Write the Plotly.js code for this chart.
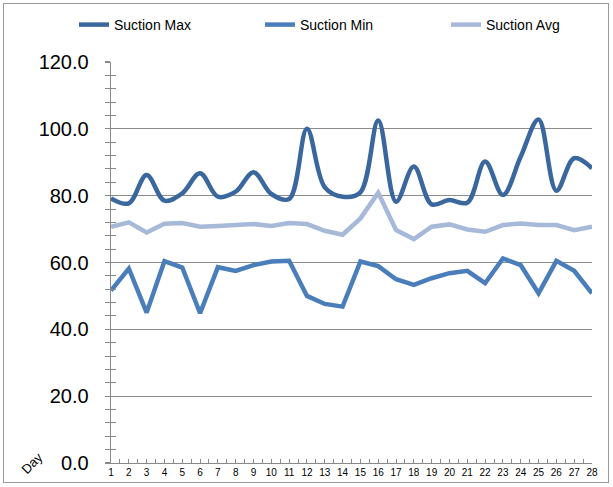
<!DOCTYPE html>
<html>
<head>
<meta charset="utf-8">
<script src="https://cdn.plot.ly/plotly-3.0.1.min.js"></script>
<style>
  html, body { margin: 0; padding: 0; background: #fff; }
  #wrap { position: relative; width: 613px; height: 487px; }
  #chart { position: absolute; left: 0; top: 0; width: 613px; height: 487px; }
  #frame { position: absolute; left: 3px; top: 3px; width: 604px; height: 478px; border: 1.5px solid #9a9a9a; pointer-events: none; }
</style>
</head>
<body>
<div id="wrap"><div id="chart"></div><div id="frame"></div></div>
<script>
const days = [1,2,3,4,5,6,7,8,9,10,11,12,13,14,15,16,17,18,19,20,21,22,23,24,25,26,27,28];
const suctionMax = [79.2,77.7,86.2,78.5,80.7,86.7,79.7,81.2,87.0,80.5,79.0,100.0,82.5,79.7,81.0,102.5,78.2,88.7,77.4,78.7,77.9,90.2,80.2,91.7,102.8,81.5,91.2,88.2];
const suctionMin = [51.6,58.2,45.0,60.4,58.5,44.8,58.6,57.5,59.2,60.3,60.5,50.0,47.6,46.8,60.3,58.9,55.0,53.3,55.3,56.8,57.5,53.8,61.2,59.2,50.8,60.5,57.5,50.8];
const suctionAvg = [70.7,72.0,69.0,71.6,71.8,70.7,70.9,71.2,71.5,70.9,71.8,71.5,69.5,68.3,73.2,80.9,69.7,67.0,70.7,71.4,69.9,69.2,71.2,71.7,71.2,71.2,69.7,70.7];
const yTickVals = [0,20,40,60,80,100,120];
const yTickText = ["0.0","20.0","40.0","60.0","80.0","100.0","120.0"];

const font = "Liberation Sans, Arial, sans-serif";
const axisGray = "#888888";

const traces = [
  {x: days, y: suctionMax, name: "Suction Max", type: "scatter", mode: "lines",
   line: {color: "#3A679E", width: 4.5, shape: "spline", smoothing: 1}},
  {x: days, y: suctionMin, name: "Suction Min", type: "scatter", mode: "lines",
   line: {color: "#4A7EBB", width: 4.5}},
  {x: days, y: suctionAvg, name: "Suction Avg", type: "scatter", mode: "lines", legendwidth: 80,
   line: {color: "#A7B9D9", width: 4.5}},
  {x: [], y: [], yaxis: "y2", type: "scatter", mode: "lines", showlegend: false, hoverinfo: "skip"}
];

const layout = {
  width: 613, height: 487,
  margin: {l: 111, r: 21, t: 62, b: 24, pad: 0, autoexpand: false},
  paper_bgcolor: "#ffffff", plot_bgcolor: "#ffffff",
  font: {family: font, color: "#000"},
  showlegend: true,
  legend: {orientation: "h", x: -37/481, xref: "paper", y: 1 + 53/401, yref: "paper",
           xanchor: "left", yanchor: "top", entrywidth: 141, entrywidthmode: "pixels",
           font: {family: font, size: 14, color: "#000"}, bgcolor: "rgba(0,0,0,0)",
           traceorder: "normal"},
  xaxis: {range: [1, 28], tickmode: "linear", tick0: 1, dtick: 1,
          tickfont: {family: font, size: 10, color: "#000"},
          showline: true, linecolor: axisGray, linewidth: 1.3,
          ticks: "inside", ticklen: 4, tickcolor: axisGray, tickwidth: 1,
          minor: {dtick: 0.5, tick0: 1, ticks: "inside", ticklen: 4, tickcolor: axisGray, tickwidth: 1, showgrid: false},
          showgrid: false, zeroline: false, fixedrange: true},
  yaxis: {range: [0, 120], tickvals: yTickVals, ticktext: yTickText,
          tickfont: {family: font, size: 20, color: "#000"},
          showline: true, linecolor: axisGray, linewidth: 1.3,
          ticks: "outside", ticklen: 5, tickcolor: axisGray, tickwidth: 1.3,
          ticklabelstandoff: 12,
          minor: {dtick: 4, tick0: 0, ticks: "outside", ticklen: 5, tickcolor: axisGray, tickwidth: 1, showgrid: false},
          showgrid: true, gridcolor: "#8c8c8c", gridwidth: 1.2,
          zeroline: false, fixedrange: true},
  yaxis2: {overlaying: "y", anchor: "x", side: "left", range: [0, 120], tickvals: yTickVals,
           showticklabels: false, ticks: "inside", ticklen: 5, tickcolor: axisGray, tickwidth: 1,
           minor: {dtick: 4, tick0: 0, ticks: "inside", ticklen: 5, tickcolor: axisGray, tickwidth: 1, showgrid: false},
           showgrid: false, zeroline: false, showline: false, fixedrange: true},
  annotations: [
    {text: "Day", xref: "paper", yref: "paper", x: -0.165, y: 0.0,
     xanchor: "center", yanchor: "middle",
     showarrow: false, textangle: -45, font: {family: font, size: 13, color: "#000"}}
  ]
};

Plotly.newPlot("chart", traces, layout, {displayModeBar: false, staticPlot: true});
</script>
</body>
</html>
